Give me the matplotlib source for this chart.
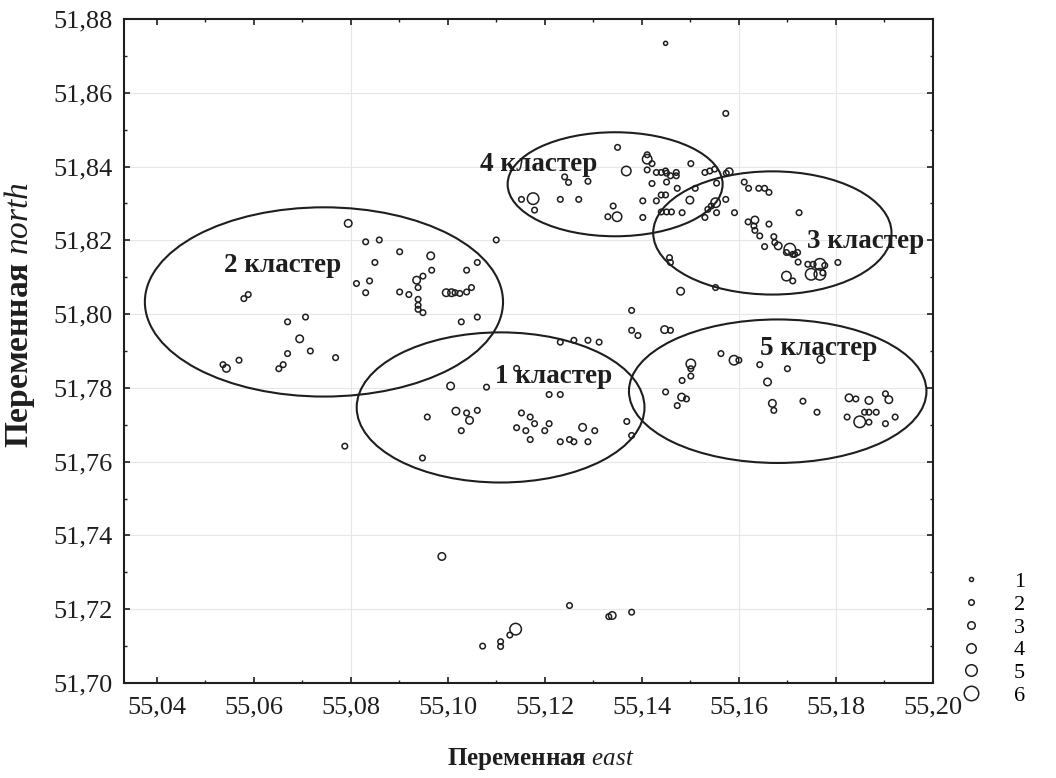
import numpy as np
import matplotlib
matplotlib.use('Agg')
import matplotlib.pyplot as plt
from matplotlib.patches import Ellipse
from matplotlib.lines import Line2D
from matplotlib.ticker import MultipleLocator, FuncFormatter

# DATA
east = [
    # cluster 2 area
    55.0795, 55.0831, 55.0859, 55.0901, 55.0965, 55.1100, 55.0850, 55.0967, 55.1039, 55.1061,
    55.0812, 55.0839, 55.0831, 55.0936, 55.0949, 55.0939, 55.0901, 55.0920, 55.0939, 55.0939,
    55.0939, 55.0949, 55.0997, 55.1008, 55.1015, 55.1025, 55.1039, 55.1049, 55.1028, 55.1061,
    55.0580, 55.0589, 55.0670, 55.0707, 55.0695, 55.0670, 55.0717, 55.0537, 55.0544, 55.0570,
    55.0652, 55.0661, 55.0769, 55.0788,
    # cluster 1
    55.1142, 55.1006, 55.1080, 55.1017, 55.1039, 55.1045, 55.1061, 55.0958, 55.1028, 55.0948,
    55.1152, 55.1170, 55.1179, 55.1142, 55.1161, 55.1170, 55.1232, 55.1260, 55.1289, 55.1312,
    55.1209, 55.1232, 55.1209, 55.1200, 55.1278, 55.1303, 55.1232, 55.1251, 55.1260, 55.1289,
    55.1369, 55.1379,
    # between clusters
    55.1379, 55.1379, 55.1392, 55.1447, 55.1459, 55.1480, 55.1552, 55.1457, 55.1459,
    # cluster 5
    55.1563, 55.1590, 55.1600, 55.1501, 55.1501, 55.1501, 55.1483, 55.1449, 55.1482, 55.1492,
    55.1473, 55.1643, 55.1700, 55.1769, 55.1659, 55.1669, 55.1672, 55.1732, 55.1761, 55.1827,
    55.1841, 55.1868, 55.1902, 55.1909, 55.1859, 55.1868, 55.1883, 55.1823, 55.1849, 55.1868,
    55.1902, 55.1922,
    # cluster 4 and top
    55.1449, 55.1573, 55.1350, 55.1411, 55.1411, 55.1421, 55.1501, 55.1368, 55.1411, 55.1430,
    55.1440, 55.1449, 55.1451, 55.1459, 55.1471, 55.1471, 55.1451, 55.1421, 55.1473, 55.1530,
    55.1540, 55.1550, 55.1580, 55.1574, 55.1554, 55.1241, 55.1249, 55.1289, 55.1176, 55.1152,
    55.1179, 55.1232, 55.1270, 55.1341, 55.1330, 55.1349, 55.1402, 55.1402, 55.1430, 55.1440,
    55.1449, 55.1440, 55.1451, 55.1461, 55.1483, 55.1499, 55.1510, 55.1530, 55.1536, 55.1543,
    55.1552, 55.1554, 55.1573, 55.1591,
    # cluster 3
    55.1611, 55.1620, 55.1641, 55.1653, 55.1662, 55.1724, 55.1619, 55.1633, 55.1631, 55.1633,
    55.1643, 55.1662, 55.1672, 55.1674, 55.1681, 55.1653, 55.1705, 55.1715, 55.1721, 55.1698,
    55.1711, 55.1722, 55.1742, 55.1753, 55.1767, 55.1777, 55.1749, 55.1767, 55.1773, 55.1698,
    55.1711, 55.1804,
    # south
    55.0988, 55.1072, 55.1109, 55.1109, 55.1128, 55.1140, 55.1251, 55.1332, 55.1339, 55.1379,
]
north = [
    51.8246, 51.8196, 51.8201, 51.8169, 51.8158, 51.8201, 51.8140, 51.8119, 51.8119, 51.8140,
    51.8083, 51.8090, 51.8058, 51.8092, 51.8103, 51.8072, 51.8060, 51.8053, 51.8040, 51.8024,
    51.8013, 51.8004, 51.8058, 51.8058, 51.8058, 51.8056, 51.8060, 51.8072, 51.7979, 51.7992,
    51.8042, 51.8053, 51.7979, 51.7992, 51.7933, 51.7893, 51.7900, 51.7863, 51.7853, 51.7875,
    51.7852, 51.7863, 51.7882, 51.7642,
    51.7853, 51.7805, 51.7802, 51.7737, 51.7732, 51.7712, 51.7739, 51.7721, 51.7684, 51.7610,
    51.7732, 51.7721, 51.7703, 51.7692, 51.7684, 51.7660, 51.7924, 51.7929, 51.7929, 51.7924,
    51.7782, 51.7782, 51.7703, 51.7684, 51.7693, 51.7684, 51.7654, 51.7660, 51.7654, 51.7654,
    51.7709, 51.7671,
    51.8010, 51.7956, 51.7942, 51.7958, 51.7956, 51.8062, 51.8072, 51.8153, 51.8140,
    51.7893, 51.7875, 51.7875, 51.7865, 51.7852, 51.7832, 51.7820, 51.7789, 51.7775, 51.7770,
    51.7752, 51.7863, 51.7852, 51.7877, 51.7816, 51.7758, 51.7739, 51.7764, 51.7734, 51.7773,
    51.7770, 51.7766, 51.7784, 51.7768, 51.7734, 51.7734, 51.7734, 51.7721, 51.7708, 51.7707,
    51.7703, 51.7721,
    51.8734, 51.8544, 51.8452, 51.8432, 51.8420, 51.8408, 51.8408, 51.8388, 51.8391, 51.8384,
    51.8384, 51.8388, 51.8382, 51.8375, 51.8384, 51.8375, 51.8358, 51.8354, 51.8341, 51.8384,
    51.8388, 51.8393, 51.8386, 51.8382, 51.8355, 51.8372, 51.8357, 51.8360, 51.8313, 51.8311,
    51.8282, 51.8311, 51.8311, 51.8293, 51.8264, 51.8264, 51.8307, 51.8262, 51.8307, 51.8323,
    51.8323, 51.8277, 51.8277, 51.8277, 51.8275, 51.8309, 51.8341, 51.8262, 51.8284, 51.8293,
    51.8302, 51.8275, 51.8311, 51.8275,
    51.8358, 51.8341, 51.8341, 51.8341, 51.8330, 51.8275, 51.8250, 51.8255, 51.8239, 51.8227,
    51.8212, 51.8244, 51.8210, 51.8194, 51.8185, 51.8183, 51.8176, 51.8162, 51.8167, 51.8167,
    51.8162, 51.8141, 51.8135, 51.8135, 51.8135, 51.8132, 51.8108, 51.8108, 51.8112, 51.8103,
    51.8090, 51.8140,
    51.7343, 51.7100, 51.7112, 51.7099, 51.7130, 51.7146, 51.7210, 51.7180, 51.7183, 51.7192,
]
size_class = [
    3, 2, 2, 2, 3, 2, 2, 2, 2, 2,
    2, 2, 2, 3, 2, 2, 2, 2, 2, 2,
    2, 2, 3, 3, 2, 2, 2, 2, 2, 2,
    2, 2, 2, 2, 3, 2, 2, 2, 3, 2,
    2, 2, 2, 2,
    2, 3, 2, 3, 2, 3, 2, 2, 2, 2,
    2, 2, 2, 2, 2, 2, 2, 2, 2, 2,
    2, 2, 2, 2, 3, 2, 2, 2, 2, 2,
    2, 2,
    2, 2, 2, 3, 2, 3, 2, 2, 2,
    2, 4, 2, 4, 2, 2, 2, 2, 3, 2,
    2, 2, 2, 3, 3, 3, 2, 2, 2, 3,
    2, 3, 2, 3, 2, 2, 2, 2, 5, 2,
    2, 2,
    1, 2, 2, 2, 4, 2, 2, 4, 2, 2,
    2, 2, 2, 2, 2, 2, 2, 2, 2, 2,
    2, 2, 3, 2, 2, 2, 2, 2, 5, 2,
    2, 2, 2, 2, 2, 4, 2, 2, 2, 2,
    2, 2, 2, 2, 2, 3, 2, 2, 2, 2,
    4, 2, 2, 2,
    2, 2, 2, 2, 2, 2, 2, 3, 2, 2,
    2, 2, 2, 2, 3, 2, 5, 2, 2, 2,
    2, 2, 2, 2, 5, 2, 5, 5, 2, 4,
    2, 2,
    3, 2, 2, 2, 2, 5, 2, 2, 3, 2,
]

# cluster ellipses: centre east, centre north, width, height
ell_east = [55.1109, 55.0745, 55.1669, 55.1345, 55.1680]
ell_north = [51.7747, 51.8033, 51.8220, 51.8352, 51.7791]
ell_w = [0.0593, 0.0738, 0.0491, 0.0443, 0.0613]
ell_h = [0.0407, 0.0513, 0.0334, 0.0282, 0.0389]

labels = ['1 кластер', '2 кластер', '3 кластер', '4 кластер', '5 кластер']
lab_east = [55.1219, 55.0659, 55.1861, 55.1188, 55.1764]
lab_north = [51.7814, 51.8114, 51.8180, 51.8387, 51.7888]

legend_classes = [1, 2, 3, 4, 5, 6]
marker_diam = [2.9, 4.0, 5.4, 6.8, 8.3, 10.4]   # points

# STYLE
ink = '#1e1e1e'
plt.rcParams['font.family'] = ['Liberation Serif', 'DejaVu Serif']
plt.rcParams['mathtext.fontset'] = 'custom'
plt.rcParams['mathtext.it'] = 'Liberation Serif:italic'
plt.rcParams['mathtext.rm'] = 'Liberation Serif'

fig = plt.figure(figsize=(10.56, 7.78), dpi=100)
ax = fig.add_axes([124/1056, 95/778, 809/1056, 664/778])

# faint grid lines as in the original
for yv in np.arange(51.72, 51.87, 0.02):
    ax.axhline(yv, color='#e6e6e6', lw=0.8, zorder=0)
for xv in [55.08, 55.16, 55.18]:
    ax.axvline(xv, color='#e6e6e6', lw=0.8, zorder=0)

s_pts = [marker_diam[c - 1] ** 2 for c in size_class]
ax.scatter(east, north, s=s_pts, facecolors='none', edgecolors=ink,
           linewidths=1.1, zorder=3)

for ex, ny, w, h in zip(ell_east, ell_north, ell_w, ell_h):
    ax.add_patch(Ellipse((ex, ny), w, h, fill=False, ec=ink, lw=1.5, zorder=4))

for t, ex, ny in zip(labels, lab_east, lab_north):
    ax.text(ex, ny, t, ha='center', va='baseline', fontsize=19.5,
            fontweight='bold', color=ink, zorder=5)

ax.set_xlim(55.0333, 55.20)
ax.set_ylim(51.70, 51.88)
ax.xaxis.set_major_locator(MultipleLocator(0.02))
ax.xaxis.set_minor_locator(MultipleLocator(0.01))
ax.yaxis.set_major_locator(MultipleLocator(0.02))
ax.yaxis.set_minor_locator(MultipleLocator(0.01))
comma = FuncFormatter(lambda v, p: ('%.2f' % v).replace('.', ','))
ax.xaxis.set_major_formatter(comma)
ax.yaxis.set_major_formatter(comma)
ax.tick_params(which='both', direction='in', top=True, right=True,
               color=ink, labelcolor=ink, labelsize=19)
ax.tick_params(axis='x', which='major', length=4.5, width=1.2, pad=10)
ax.tick_params(axis='y', which='major', length=4.5, width=1.2, pad=8)
ax.tick_params(which='minor', length=2.5, width=1.0)
for sp in ax.spines.values():
    sp.set_linewidth(1.5)
    sp.set_color(ink)

ax.set_xlabel('Переменная $\\mathit{east}$', fontsize=18, fontweight='bold', color=ink)
ax.set_ylabel('Переменная $\\mathit{north}$', fontsize=24, fontweight='bold', color=ink)
ax.xaxis.set_label_coords(0.515, -0.095)
ax.yaxis.set_label_coords(-0.107, 0.554)

handles = [Line2D([], [], ls='none', marker='o', markersize=d, mfc='none',
                  mec=ink, mew=1.1) for d in marker_diam]
fig.legend(handles, [str(c) for c in legend_classes], loc='center',
           bbox_to_anchor=(0.937, 0.179), frameon=False, fontsize=16,
           handlelength=1.5, handletextpad=1.2, labelspacing=0.1,
           borderpad=0.0)

fig.savefig('out.png', dpi=100)
